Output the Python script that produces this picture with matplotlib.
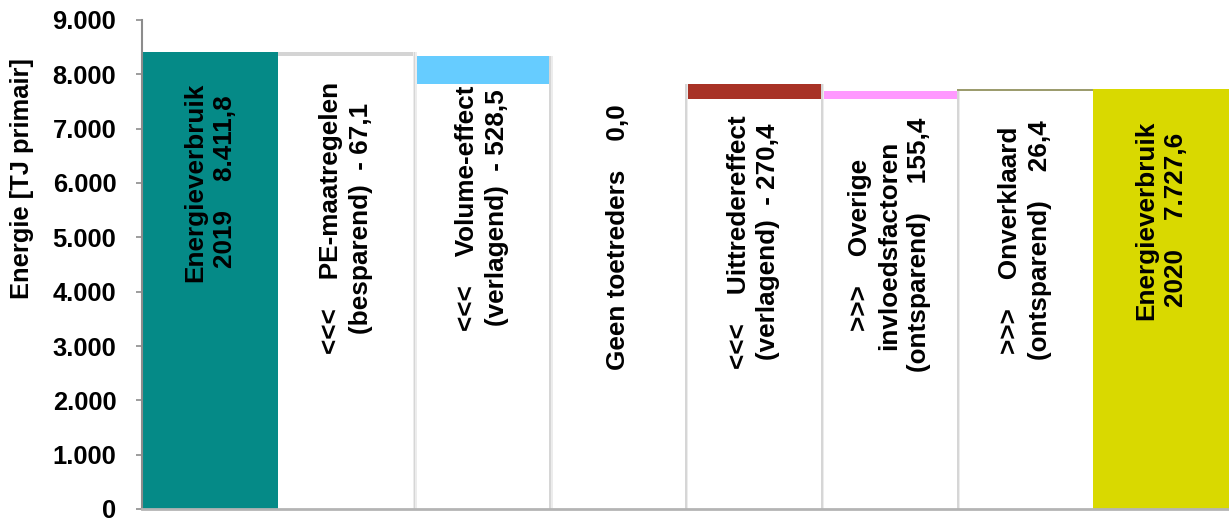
import matplotlib.pyplot as plt
import numpy as np

# waterfall data (TJ primair)
labels = ["Energieverbruik\n2019    8.411,8",
          "<<<    PE-maatregelen\n(besparend)  - 67,1",
          "<<<    Volume-effect\n(verlagend)  - 528,5",
          "Geen toetreders    0,0",
          "<<<    Uittredereffect\n(verlagend)  - 270,4",
          ">>>    Overige\ninvloedsfactoren\n(ontsparend)    155,4",
          ">>>    Onverklaard\n(ontsparend)    26,4",
          "Energieverbruik\n2020    7.727,6"]
start_value = 8411.8
deltas = [-67.1, -528.5, 0.0, -270.4, 155.4, 26.4]
end_value = 7727.6
yticks = [0, 1000, 2000, 3000, 4000, 5000, 6000, 7000, 8000, 9000]
ytick_labels = ["0", "1.000", "2.000", "3.000", "4.000", "5.000", "6.000", "7.000", "8.000", "9.000"]

# styling
end_colors = ["#058a87", "#d9d900"]
delta_colors = ["#d4d4d4", "#66ccff", "#ffffff", "#a83226", "#ff99ff", "#9c9c6e"]
label_y = [6018, 5356, 5540, 5006, 4914, 4859, 4951, 5319]

plt.rcParams['font.family'] = ['Liberation Sans', 'DejaVu Sans']
plt.rcParams['font.weight'] = 'bold'

fig = plt.figure(figsize=(12.29, 5.19), dpi=100)
ax = fig.add_axes([142 / 1229, 10 / 519, 1 - 142 / 1229, 489 / 519])

x = np.arange(len(labels))

# running totals for the middle columns
before = start_value + np.concatenate([[0], np.cumsum(deltas)[:-1]])
after = start_value + np.cumsum(deltas)
low = np.minimum(before, after)
high = np.maximum(before, after)
xm = x[1:-1]

# white base bars + coloured change bars
ax.bar(xm, low, width=1.0, color="white", zorder=2)
ax.bar(xm, high - low, bottom=low, width=1.0, color=delta_colors, zorder=2)
# soft shadow on the right side of the middle columns
ax.bar(xm + 0.5 + 0.01, high, width=0.024, color="#ececec", zorder=3)
ax.bar(xm + 0.5 + 0.005, high, width=0.012, color="#d6d6d6", zorder=3)

# start and end totals
ax.bar([x[0], x[-1]], [start_value, end_value], width=1.0, color=end_colors, zorder=4)

for i, txt in enumerate(labels):
    ax.text(x[i], label_y[i], txt, rotation=90, ha="center", va="center",
            multialignment="center", fontsize=18.8, fontweight="bold",
            linespacing=1.3, zorder=5)

ax.set_xlim(-0.5, len(labels) - 0.5)
ax.set_ylim(0, 9000)
ax.set_yticks(yticks)
ax.set_yticklabels(ytick_labels, fontsize=18.4, fontweight="bold")
ax.set_xticks([])
ax.tick_params(axis="y", length=4.5, width=1.2, color="#8c8c8c", pad=14)

ax.set_ylabel("Energie [TJ primair]", fontsize=18.4, fontweight="bold", va="center")
ax.yaxis.set_label_coords((22 - 142) / 1087, 0.675)

for s in ["top", "right"]:
    ax.spines[s].set_visible(False)
ax.spines["left"].set_color("#8c8c8c")
ax.spines["left"].set_linewidth(1.5)
ax.spines["bottom"].set_color("#b4b4b4")
ax.spines["bottom"].set_linewidth(2)
ax.spines["left"].set_zorder(6)
ax.spines["bottom"].set_zorder(6)

fig.savefig("out.png", dpi=100)
